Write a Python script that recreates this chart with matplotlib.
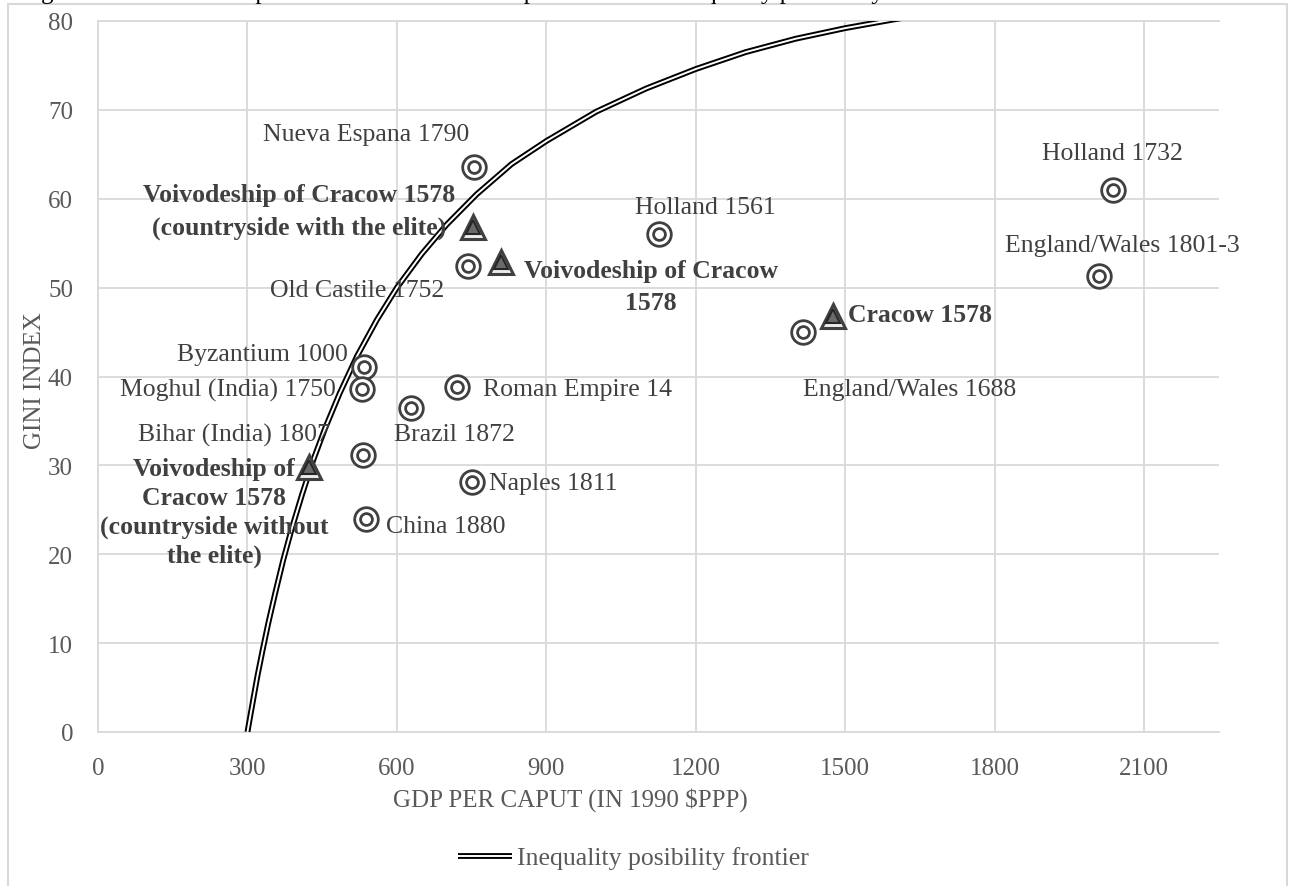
import matplotlib
matplotlib.use("Agg")
import matplotlib.pyplot as plt
from matplotlib.patches import Rectangle

plt.rcParams['font.family'] = ['Liberation Serif', 'DejaVu Serif']

# societies (double circles)
names = ['Nueva Espana 1790', 'Holland 1561', 'Holland 1732', 'England/Wales 1801-3',
         'Old Castile 1752', 'England/Wales 1688', 'Byzantium 1000', 'Moghul (India) 1750',
         'Roman Empire 14', 'Brazil 1872', 'Bihar (India) 1807', 'Naples 1811', 'China 1880']
gdp = [755, 1126, 2038, 2010, 743, 1415, 534, 530, 721, 628, 532, 751, 538]
gini = [63.6, 56.0, 61.0, 51.3, 52.4, 45.0, 41.1, 38.6, 38.8, 36.5, 31.2, 28.1, 24.0]
# label offsets in pixels (label centre relative to point)
lab_off = [(-108, 33), (46, 27), (-1, 37), (23, 31), (-111, -24), (107, -57), (-102, 13),
           (-134, -1), (120, -2), (44, -26), (-129, 20), (81, -1), (80, -7)]

# Cracow estimates (triangles)
cr_names = ['Voivodeship of Cracow 1578\n(countryside with the elite)',
            'Voivodeship of Cracow\n1578',
            'Cracow 1578',
            'Voivodeship of\nCracow 1578\n(countryside without\nthe elite)']
cr_gdp = [753, 809, 1476, 424]
cr_gini = [56.8, 52.9, 46.8, 29.8]
cr_off = [(-174, 16), (150, -25), (87, 2), (-95, -45)]
cr_spacing = [1.5, 1.5, 1.2, 1.33]

# inequality possibility frontier
ipf_gdp = [300, 305, 312, 320, 330, 342, 356, 372, 390, 410, 432, 456, 485, 520, 560,
           600, 650, 700, 760, 830, 900, 1000, 1100, 1200, 1300, 1400, 1500, 1600, 1650]
ipf_gini = [0, 1.6, 3.8, 6.3, 9.1, 12.3, 15.7, 19.4, 23.1, 26.8, 30.6, 34.2, 38.1, 42.3, 46.4,
            50, 53.8, 57.1, 60.5, 63.9, 66.5, 69.8, 72.4, 74.6, 76.5, 78, 79.2, 80.2, 80.7]

grid_c = '#d9d9d9'
txt_c = '#404040'
tick_c = '#595959'

fig = plt.figure(figsize=(12.91, 8.87), dpi=100)
ax = fig.add_axes([98/1291, 1-733/887, (1219-98)/1291, (733-22)/887])

# chart border
fig.patches.append(Rectangle((8/1291, -0.1), (1287-8)/1291, 1.1 - 5/887, transform=fig.transFigure,
                             fill=False, edgecolor=grid_c, lw=1.5, zorder=0))
# caption above the chart, cut off like in the source
fig.text(20/1291, 1 + 1.5/887, 'Figure 3. Gini index in preindustrial societies compared '
         'with the inequality possibility frontier', fontsize=18, color='black', va='baseline')

l1, = ax.plot(ipf_gdp, ipf_gini, color='black', lw=4.2, solid_capstyle='butt', zorder=3)
l2, = ax.plot(ipf_gdp, ipf_gini, color='white', lw=1.4, solid_capstyle='butt', zorder=3)

ax.plot(gdp, gini, 'o', ms=17, mfc='white', mec=txt_c, mew=2, zorder=4, ls='none')
ax.plot(gdp, gini, 'o', ms=8.5, mfc='white', mec=txt_c, mew=2, zorder=5, ls='none')
ax.plot(cr_gdp, cr_gini, '^', ms=17.5, mfc='#ececec', mec=txt_c, mew=2.2, zorder=4, ls='none')
ax.plot(cr_gdp, cr_gini, '^', ms=9.5, mfc='#6a6a6a', mec='#262626', mew=1.5, zorder=5, ls='none')

for n, x, y, o in zip(names, gdp, gini, lab_off):
    ax.annotate(n, (x, y), xytext=o, textcoords='offset pixels', ha='center', va='center',
                fontsize=18.5, color=txt_c, zorder=6)
for n, x, y, o, ls in zip(cr_names, cr_gdp, cr_gini, cr_off, cr_spacing):
    ax.annotate(n, (x, y), xytext=o, textcoords='offset pixels', ha='center', va='center',
                fontsize=18.5, color=txt_c, fontweight='bold', linespacing=ls, zorder=6)

ax.set_xlim(0, 2250)
ax.set_ylim(0, 80)
ax.set_xticks(range(0, 2101, 300))
ax.set_yticks(range(0, 81, 10))
ax.grid(True, color=grid_c, lw=1.3)
ax.set_axisbelow(True)
ax.spines['right'].set_visible(False)
for s in ['left', 'bottom', 'top']:
    ax.spines[s].set_color(grid_c)
    ax.spines[s].set_linewidth(1.3)
ax.tick_params(length=0, labelsize=18, labelcolor=tick_c)
ax.tick_params(axis='y', pad=18)
ax.tick_params(axis='x', pad=18)

fig.text(570/1291, 1-800/887, 'GDP PER CAPUT (IN 1990 $PPP)', ha='center', va='center',
         fontsize=18, color=tick_c)
fig.text(35/1291, 1-381/887, 'GINI INDEX', ha='center', va='center', rotation=90,
         fontsize=18, color=tick_c)

fig.legend([(l1, l2)], ['Inequality posibility frontier'], loc='center left',
           bbox_to_anchor=(458/1291, 1-859/887), frameon=False, fontsize=18.5,
           labelcolor=tick_c, handlelength=2.1, handletextpad=0.2, borderaxespad=0,
           borderpad=0)

fig.savefig('out.png', dpi=100)
